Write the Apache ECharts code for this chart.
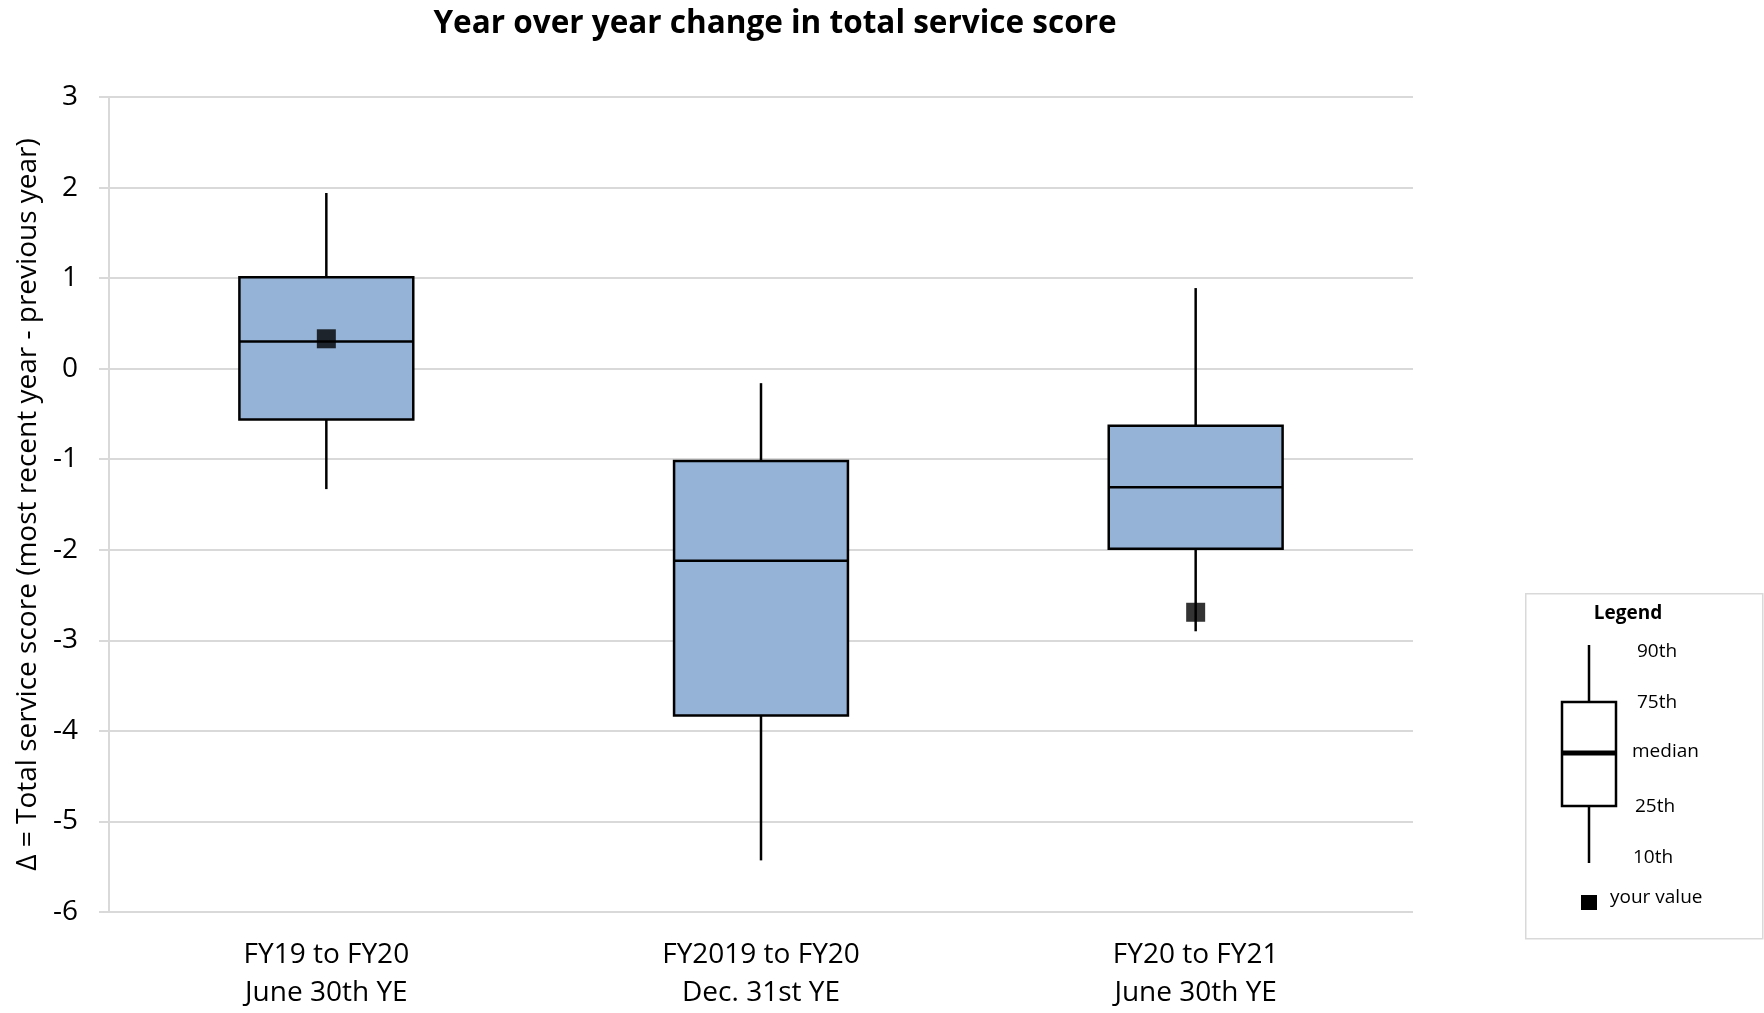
<!DOCTYPE html>
<html>
<head>
<meta charset="utf-8">
<title>Year over year change in total service score</title>
<script src="https://cdn.jsdelivr.net/npm/echarts@6/dist/echarts.min.js"></script>
<style>
  html, body { margin: 0; padding: 0; background: #fff; }
  #chart { width: 1764px; height: 1013px; }
</style>
</head>
<body>
<div id="chart"></div>
<script>
// Reporting periods (x categories)
const categories = [
  'FY19 to FY20\nJune 30th YE',
  'FY2019 to FY20\nDec. 31st YE',
  'FY20 to FY21\nJune 30th YE'
];

// Percentiles of the year-over-year change for each period
const p10    = [-1.33, -5.43, -2.90];
const p25    = [-0.56, -3.83, -1.99];
const median = [ 0.30, -2.12, -1.31];
const p75    = [ 1.01, -1.02, -0.63];
const p90    = [ 1.94, -0.16,  0.89];

// The organisation's own value (none reported for the middle period)
const yourValue = [0.33, null, -2.69];

// Y-axis scale
const yMin = -6;
const yMax = 3;
const yStep = 1;

const FONT = '"Open Sans"';
const BOX_FILL = '#95b3d7';
const INK = '#000000';
const GRID_GRAY = '#d9d9d9';

const boxData = categories.map((c, i) => [i, p10[i], p25[i], median[i], p75[i], p90[i]]);
const markerData = categories.map((c, i) => [i, yourValue[i]]).filter(d => d[1] !== null);

function renderBox(params, api) {
  const i = api.value(0);
  const pLo = api.coord([i, api.value(1)]);
  const pQ1 = api.coord([i, api.value(2)]);
  const pMed = api.coord([i, api.value(3)]);
  const pQ3 = api.coord([i, api.value(4)]);
  const pHi = api.coord([i, api.value(5)]);
  const bandWidth = api.size([1, 0])[0];
  const half = bandWidth * 0.4 / 2;
  const cx = pMed[0];
  const line = { stroke: INK, lineWidth: 2.5 };
  return {
    type: 'group',
    children: [
      { type: 'line', shape: { x1: cx, y1: pHi[1], x2: cx, y2: pQ3[1] }, style: line },
      { type: 'line', shape: { x1: cx, y1: pQ1[1], x2: cx, y2: pLo[1] }, style: line },
      {
        type: 'rect',
        shape: { x: cx - half, y: pQ3[1], width: half * 2, height: pQ1[1] - pQ3[1] },
        style: { fill: BOX_FILL, stroke: INK, lineWidth: 2.5 }
      },
      { type: 'line', shape: { x1: cx - half, y1: pMed[1], x2: cx + half, y2: pMed[1] }, style: line }
    ]
  };
}

// Explanatory key drawn at the right-hand side
const KEY_X = 1525, KEY_Y = 593;
const keyCx = KEY_X + 64;
const keyLabelStyle = { font: '19px ' + FONT, fill: INK, textVerticalAlign: 'middle' };
const keyGraphic = [
  {
    type: 'rect', left: KEY_X, top: KEY_Y,
    shape: { width: 237, height: 345 },
    style: { fill: '#fff', stroke: GRID_GRAY, lineWidth: 1.5 }
  },
  {
    type: 'text', x: KEY_X + 103, y: KEY_Y + 21,
    style: { text: 'Legend', font: 'bold 19px ' + FONT, fill: INK, textAlign: 'center', textVerticalAlign: 'middle' }
  },
  { type: 'line', shape: { x1: keyCx, y1: KEY_Y + 52, x2: keyCx, y2: KEY_Y + 109 }, style: { stroke: INK, lineWidth: 2.5 } },
  { type: 'rect', shape: { x: keyCx - 27, y: KEY_Y + 109, width: 54, height: 104 }, style: { fill: '#fff', stroke: INK, lineWidth: 2.5 } },
  { type: 'line', shape: { x1: keyCx - 27, y1: KEY_Y + 160, x2: keyCx + 27, y2: KEY_Y + 160 }, style: { stroke: INK, lineWidth: 5 } },
  { type: 'line', shape: { x1: keyCx, y1: KEY_Y + 213, x2: keyCx, y2: KEY_Y + 270 }, style: { stroke: INK, lineWidth: 2.5 } },
  { type: 'text', x: KEY_X + 112, y: KEY_Y + 59, style: Object.assign({ text: '90th' }, keyLabelStyle) },
  { type: 'text', x: KEY_X + 112, y: KEY_Y + 110, style: Object.assign({ text: '75th' }, keyLabelStyle) },
  { type: 'text', x: KEY_X + 107, y: KEY_Y + 159, style: Object.assign({ text: 'median' }, keyLabelStyle) },
  { type: 'text', x: KEY_X + 110, y: KEY_Y + 214, style: Object.assign({ text: '25th' }, keyLabelStyle) },
  { type: 'text', x: KEY_X + 108, y: KEY_Y + 265, style: Object.assign({ text: '10th' }, keyLabelStyle) },
  { type: 'rect', shape: { x: keyCx - 8, y: KEY_Y + 302, width: 16, height: 15 }, style: { fill: INK } },
  { type: 'text', x: KEY_X + 85, y: KEY_Y + 305, style: Object.assign({ text: 'your value' }, keyLabelStyle) }
];

const chart = echarts.init(document.getElementById('chart'), null, { renderer: 'canvas' });

chart.setOption({
  animation: false,
  backgroundColor: '#ffffff',
  textStyle: { fontFamily: FONT, color: INK },
  title: {
    text: 'Year over year change in total service score',
    left: 775,
    textAlign: 'center',
    top: 8,
    padding: 0,
    textStyle: { fontFamily: FONT, fontWeight: 'bold', fontSize: 31.5, color: INK }
  },
  grid: { left: 109, right: 351, top: 97, bottom: 101, containLabel: false },
  xAxis: {
    type: 'category',
    data: categories,
    boundaryGap: true,
    axisLine: { show: false },
    axisTick: { show: false },
    splitLine: { show: false },
    axisLabel: {
      interval: 0,
      margin: 24,
      fontFamily: FONT,
      fontSize: 28,
      lineHeight: 38,
      color: INK,
      align: 'center'
    }
  },
  yAxis: {
    type: 'value',
    min: yMin,
    max: yMax,
    interval: yStep,
    name: 'Δ = Total service score (most recent year - previous year)',
    nameLocation: 'middle',
    nameGap: 66,
    nameTextStyle: { fontFamily: FONT, fontSize: 28, color: INK },
    axisLine: { show: true, lineStyle: { color: GRID_GRAY, width: 2 } },
    axisTick: { show: true, length: 10, lineStyle: { color: GRID_GRAY, width: 2 } },
    splitLine: { show: true, lineStyle: { color: GRID_GRAY, width: 2 } },
    axisLabel: { margin: 31, fontFamily: FONT, fontSize: 28, color: INK, padding: [5, 0, 0, 0] }
  },
  series: [
    {
      name: 'Distribution',
      type: 'custom',
      renderItem: renderBox,
      encode: { x: 0, y: [1, 2, 3, 4, 5] },
      data: boxData,
      z: 2
    },
    {
      name: 'your value',
      type: 'scatter',
      symbol: 'rect',
      symbolSize: 19,
      itemStyle: { color: INK },
      data: markerData,
      z: 5
    }
  ],
  graphic: keyGraphic
});
</script>
</body>
</html>
